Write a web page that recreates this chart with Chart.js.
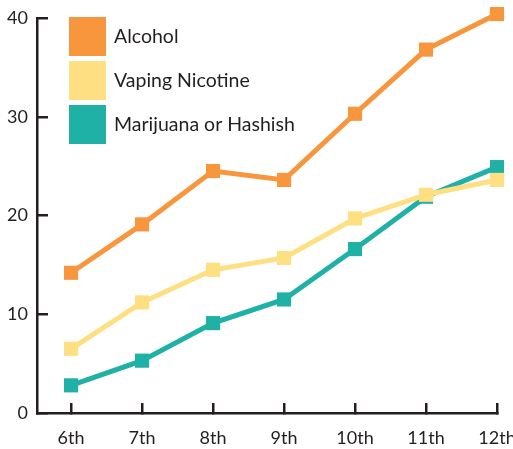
<!DOCTYPE html>
<html><head><meta charset="utf-8">
<script src="https://cdn.jsdelivr.net/npm/chart.js@4"></script>
<style>html,body{margin:0;padding:0;background:#fff}#wrap{width:513px;height:449px;position:relative}</style>
</head><body><div id="wrap"><canvas id="c"></canvas></div>
<script>
const categories = ['6th','7th','8th','9th','10th','11th','12th'];
const seriesLabels = ['Alcohol','Vaping Nicotine','Marijuana or Hashish'];
const alcohol = [14.2, 19.1, 24.5, 23.6, 30.3, 36.8, 40.4];
const vaping = [6.5, 11.2, 14.5, 15.7, 19.7, 22.1, 23.6];
const marijuana = [2.8, 5.3, 9.1, 11.5, 16.6, 21.9, 24.9];
const yTickValues = [0, 10, 20, 30, 40];

const colors = ['#F7963C', '#FEE083', '#20B1A6'];
const ink = '#231F20';
const FONT = 'Lato, "Open Sans", sans-serif';

function mk(label, vals, color) {
  return {
    label, data: vals.map((v, i) => ({x: i, y: v})),
    borderColor: color, backgroundColor: color,
    borderWidth: 5, tension: 0, clip: false,
    pointStyle: 'rect', pointRadius: 10, pointHoverRadius: 10,
    pointBorderWidth: 0, pointBackgroundColor: color
  };
}

const legendPlugin = {
  id: 'customLegend',
  afterDraw(chart) {
    const ctx = chart.ctx;
    ctx.save();
    chart.data.datasets.forEach((ds, i) => {
      const top = 17 + i * 44;
      ctx.fillStyle = ds.borderColor;
      ctx.fillRect(69, top, 37, 39);
      ctx.fillStyle = ink;
      ctx.font = '19.5px ' + FONT;
      ctx.textBaseline = 'middle';
      ctx.textAlign = 'left';
      ctx.fillText(ds.label, 114, top + 19.5);
    });
    ctx.restore();
  }
};

new Chart(document.getElementById('c'), {
  type: 'line',
  data: {
    datasets: [
      mk(seriesLabels[0], alcohol, colors[0]),
      mk(seriesLabels[1], vaping, colors[1]),
      mk(seriesLabels[2], marijuana, colors[2])
    ]
  },
  options: {
    responsive: true, maintainAspectRatio: false, animation: false,
    layout: {padding: {top: 18, right: 16, left: 0, bottom: 0}},
    plugins: {legend: {display: false}, tooltip: {enabled: false}},
    scales: {
      x: {
        type: 'linear', min: -0.48, max: 6,
        afterFit(s) { s.height = 36; s.paddingLeft = 0; s.paddingRight = 0; },
        ticks: {
          stepSize: 1, includeBounds: false, padding: 24,
          color: ink, font: {family: FONT, size: 18},
          callback: (v) => categories[v] ?? ''
        },
        grid: {drawOnChartArea: false, drawTicks: true, tickLength: -10, color: ink, lineWidth: 2.5},
        border: {display: true, color: ink, width: 2.5}
      },
      y: {
        min: 0, max: 40,
        afterFit(s) { s.width = 37; s.paddingTop = 0; s.paddingBottom = 0; },
        afterBuildTicks(s) { s.ticks = yTickValues.map(v => ({value: v})); },
        ticks: {padding: 20, color: ink, font: {family: FONT, size: 18}},
        grid: {drawOnChartArea: false, drawTicks: true, tickLength: -11, color: ink, lineWidth: 2.5},
        border: {display: true, color: ink, width: 2.5}
      }
    }
  },
  plugins: [legendPlugin]
});
</script></body></html>
